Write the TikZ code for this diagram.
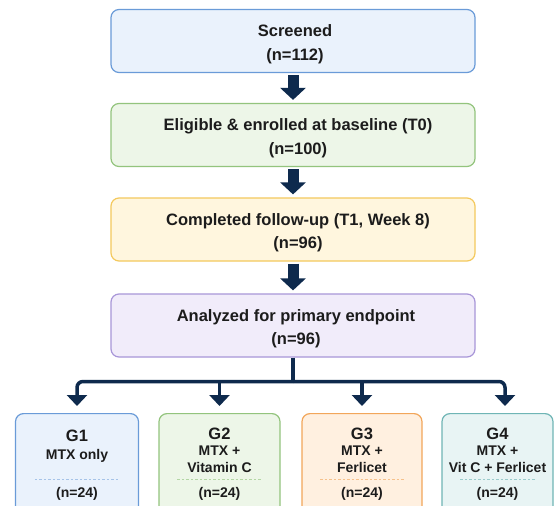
\documentclass[tikz,border=0pt]{standalone}
\usepackage{fontspec}
\setmainfont{Liberation Sans}
\usetikzlibrary{arrows.meta,calc}
\definecolor{navy}{HTML}{0E2A4D}
\definecolor{txt}{HTML}{1C1C1C}
\definecolor{bluef}{HTML}{EAF2FC}
\definecolor{blued}{HTML}{6A9BD8}
\definecolor{greenf}{HTML}{EDF6E8}
\definecolor{greend}{HTML}{93C47D}
\definecolor{yellowf}{HTML}{FFF6DE}
\definecolor{yellowd}{HTML}{F4C95D}
\definecolor{purplef}{HTML}{F1ECFA}
\definecolor{purpled}{HTML}{A896D8}
\definecolor{orangef}{HTML}{FFF0E0}
\definecolor{oranged}{HTML}{F2A65A}
\definecolor{tealf}{HTML}{E8F4F4}
\definecolor{teald}{HTML}{6FB5B5}
\begin{document}
\begin{tikzpicture}[x=1pt,y=-1pt,
  topbox/.style={rounded corners=8pt, line width=1.2pt, minimum width=364pt,
    minimum height=63pt, inner sep=0pt},
  toptext/.style={align=center, inner sep=0pt, text=txt,
    font=\bfseries\fontsize{16.5}{23.5}\selectfont},
  gbox/.style={rounded corners=8pt, line width=1.2pt, minimum height=105pt,
    anchor=north, inner sep=0pt},
  gtitle/.style={text=txt, font=\bfseries\fontsize{16.5}{19}\selectfont, inner sep=0pt},
  gsub/.style={text=txt, align=center, font=\bfseries\fontsize{14}{17}\selectfont, inner sep=0pt},
  gn/.style={text=txt, font=\bfseries\fontsize{14}{17}\selectfont, inner sep=0pt},
  sep/.style={dashed, line width=0.6pt, dash pattern=on 2.5pt off 2pt},
  bigarrow/.style={draw=navy, line width=11pt, shorten <=2pt, shorten >=3pt,
    -{Triangle[width=25pt,length=12pt]}},
  conn/.style={draw=navy, line width=3.5pt},
  thinarrow/.style={draw=navy, line width=3.5pt, shorten >=7pt,
    -{Triangle[width=20pt,length=11pt]}}]
\useasboundingbox (0,0) rectangle (555,506);
\fill[white] (0,0) rectangle (555,506);
\clip (0,0) rectangle (555,506);

% main column
\node[topbox, draw=blued, fill=bluef] (a1) at (293,41) {};
\node[topbox, draw=greend, fill=greenf] (a2) at (293,135) {};
\node[topbox, draw=yellowd, fill=yellowf] (a3) at (293,229.5) {};
\node[topbox, draw=purpled, fill=purplef] (a4) at (293,325.5) {};
\node[toptext] (a1t) at ($(a1.center)+(2,3)$) {Screened\\(n=112)};
\node[toptext] (a2t) at ($(a2.center)+(5,3)$) {Eligible \& enrolled at baseline (T0)\\(n=100)};
\node[toptext] (a3t) at ($(a3.center)+(5,3)$) {Completed follow-up (T1, Week 8)\\(n=96)};
\node[toptext] (a4t) at ($(a4.center)+(3,3)$) {Analyzed for primary endpoint\\(n=96)};

\draw[bigarrow] (a1.south) -- (a2.north);
\draw[bigarrow] (a2.south) -- (a3.north);
\draw[bigarrow] (a3.south) -- (a4.north);

% groups
\node[gbox, draw=blued, fill=bluef, minimum width=123pt] (g1) at (77,413) {};
\node[gbox, draw=greend, fill=greenf, minimum width=121pt] (g2) at (219.5,413) {};
\node[gbox, draw=oranged, fill=orangef, minimum width=120pt] (g3) at (362,413) {};
\node[gbox, draw=teald, fill=tealf, minimum width=111pt] (g4) at (497.5,413) {};

\node[gtitle] (g1t) at (77,436) {G1};
\node[gsub] (g1s) at (77,456) {MTX only};
\node[gn] (g1n) at (77,494) {(n=24)};
\draw[sep, draw=blued!60] ($(g1.north west)+(20,66)$) -- ($(g1.north east)+(-20,66)$);

\node[gtitle] (g2t) at (219.5,434) {G2};
\node[gsub] (g2s) at (219.5,459.5) {MTX +\\Vitamin C};
\node[gn] (g2n) at (219.5,494) {(n=24)};
\draw[sep, draw=greend!70] ($(g2.north west)+(19,66)$) -- ($(g2.north east)+(-19,66)$);

\node[gtitle] (g3t) at (362,434) {G3};
\node[gsub] (g3s) at (362,459.5) {MTX +\\Ferlicet};
\node[gn] (g3n) at (362,494) {(n=24)};
\draw[sep, draw=oranged!70] ($(g3.north west)+(19,66)$) -- ($(g3.north east)+(-19,66)$);

\node[gtitle] (g4t) at (497.5,434) {G4};
\node[gsub] (g4s) at (497.5,459.5) {MTX +\\Vit C + Ferlicet};
\node[gn] (g4n) at (497.5,494) {(n=24)};
\draw[sep, draw=teald!70] ($(g4.north west)+(19,66)$) -- ($(g4.north east)+(-19,66)$);

% connectors
\coordinate (hub) at (293,381.5);
\coordinate (g4in) at (505,413);
\draw[conn] (a4.south) -- (hub);
\draw[thinarrow, rounded corners=6pt] (hub) -| (g1.north);
\draw[thinarrow, rounded corners=6pt] (hub) -| (g4in);
\draw[thinarrow] (hub -| g2.north) -- (g2.north);
\draw[thinarrow] (hub -| g3.north) -- (g3.north);
\end{tikzpicture}
\end{document}
